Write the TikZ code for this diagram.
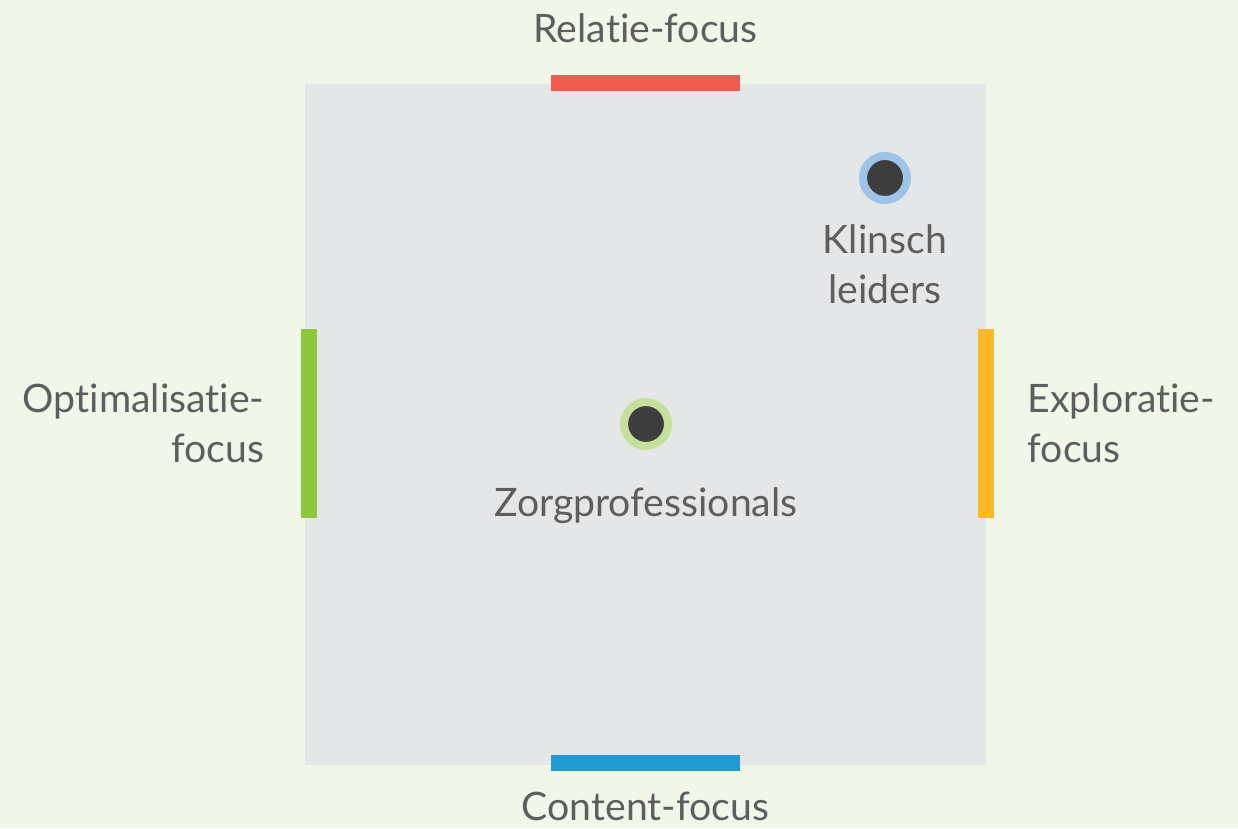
\documentclass[tikz,border=0pt]{standalone}
\usepackage{fontspec}
\setmainfont{Lato}[Ligatures=NoCommon]
\usetikzlibrary{positioning}
\definecolor{bgcol}{HTML}{F0F7E8}
\definecolor{sqcol}{HTML}{E5E6E8}
\definecolor{txtcol}{HTML}{5E5E5E}
\definecolor{redcol}{HTML}{F15A4F}
\definecolor{bluecol}{HTML}{209AD3}
\definecolor{greencol}{HTML}{8DC63F}
\definecolor{orangecol}{HTML}{FDB827}
\definecolor{dotcol}{HTML}{3D3D3D}
\definecolor{ringblue}{HTML}{9DC3E6}
\definecolor{ringgreen}{HTML}{C5E09B}
\tikzset{
  lbl/.style = {align=center, inner sep=0pt, text=txtcol, font=\fontsize{22.3}{28.5}\selectfont},
  bar_h/.style = {rectangle, inner sep=0pt, minimum width=3.78cm, minimum height=0.32cm},
  bar_v/.style = {rectangle, inner sep=0pt, minimum width=0.32cm, minimum height=3.78cm},
  dot_n/.style = {circle, inner sep=0pt, minimum size=0.88cm, line width=0.16cm, fill=dotcol}
}

\begin{document}
\begin{tikzpicture}
	\fill[bgcol] (0,0) rectangle (24.76,16.56);
	\fill[sqcol] (6.10,1.26) rectangle (19.72,14.88);
	% bars
	\node [bar_h, fill=redcol] (relbar) at (12.91,14.90) {};
	\node [bar_h, fill=bluecol] (conbar) at (12.91,1.30) {};
	\node [bar_v, fill=greencol] (optbar) at (6.18,8.09) {};
	\node [bar_v, fill=orangecol] (expbar) at (19.72,8.09) {};
	% labels
	\node [lbl, above=0.62cm of relbar] (rel) {Relatie-focus};
	\node [lbl, below=0.40cm of conbar] (con) {Content-focus};
	\node [lbl, align=right, left=0.72cm of optbar] (opt) {Optimalisatie-\\focus};
	\node [lbl, align=left, right=0.66cm of expbar] (exp) {Exploratie-\\focus};
	% dots
	\node [dot_n, draw=ringblue] (kl) at (17.70,13.00) {};
	\node [dot_n, draw=ringgreen] (zp) at (12.92,8.08) {};
	\node [lbl, below=0.40cm of kl] (kltxt) {Klinsch\\leiders};
	\node [lbl, below=0.74cm of zp] (zptxt) {Zorgprofessionals};
\end{tikzpicture}
\end{document}
